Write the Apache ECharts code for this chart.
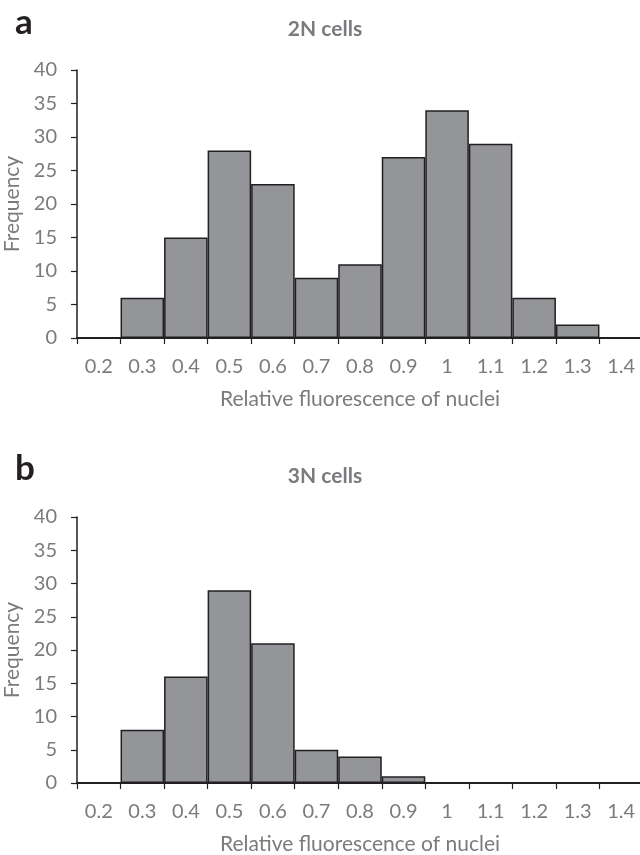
<!DOCTYPE html>
<html><head><meta charset="utf-8">
<script src="https://cdn.jsdelivr.net/npm/echarts@6/dist/echarts.min.js"></script>
<style>html,body{margin:0;padding:0;background:#fff}#c{width:640px;height:855px}</style>
</head><body><div id="c"></div>
<script>
const categories = ['0.2','0.3','0.4','0.5','0.6','0.7','0.8','0.9','1','1.1','1.2','1.3','1.4'];
const freq2N = [0, 6, 15, 28, 23, 9, 11, 27, 34, 29, 6, 2, 0];
const freq3N = [0, 8, 16, 29, 21, 5, 4, 1, 0, 0, 0, 0, 0];
const yTicks = [0, 5, 10, 15, 20, 25, 30, 35, 40];
const panelLabels = ['a', 'b'];
const panelTitles = ['2N cells', '3N cells'];
const xName = 'Relative fluorescence of nuclei';
const yName = 'Frequency';

const FONT = 'Lato';
const GREY = '#7a7b7e';
const FS = 20;
const chart = echarts.init(document.getElementById('c'), null, {renderer: 'canvas'});
const grids = [
  {left: 77, top: 70, height: 268, right: -3, containLabel: false, outerBoundsMode: 'none'},
  {left: 77, top: 517, height: 266, right: -3, containLabel: false, outerBoundsMode: 'none'}
];
function xAxis(i) {
  return {
    type: 'category', gridIndex: i, data: categories,
    name: xName, nameLocation: 'middle', nameGap: 51,
    nameTextStyle: {color: GREY, fontFamily: FONT, fontSize: 21},
    axisLine: {lineStyle: {color: '#231f20', width: 2}},
    axisTick: {show: true, alignWithLabel: false, length: 6, lineStyle: {color: '#231f20', width: 1.2}},
    axisLabel: {color: GREY, fontFamily: FONT, fontSize: FS, margin: 19, interval: 0},
    splitLine: {show: false}
  };
}
function yAxis(i) {
  return {
    type: 'value', gridIndex: i, min: yTicks[0], max: yTicks[yTicks.length - 1], interval: yTicks[1] - yTicks[0],
    name: yName, nameLocation: 'middle', nameGap: 54, nameMoveOverlap: false,
    nameTextStyle: {color: GREY, fontFamily: FONT, fontSize: 21},
    axisLine: {show: true, lineStyle: {color: '#231f20', width: 1.5}},
    axisTick: {show: true, length: 6, lineStyle: {color: '#231f20', width: 1.2}},
    axisLabel: {color: GREY, fontFamily: FONT, fontSize: FS, margin: 20},
    splitLine: {show: false}
  };
}
function series(i, vals) {
  return {
    type: 'bar', xAxisIndex: i, yAxisIndex: i, barCategoryGap: 0,
    data: vals.map(v => v === 0 ? '-' : v),
    itemStyle: {color: '#939598', borderColor: '#231f20', borderWidth: 1.5},
    silent: true
  };
}
chart.setOption({
  animation: false,
  grid: grids,
  title: [
    {text: panelLabels[0], left: 10, top: 0, textStyle: {fontFamily: FONT, fontSize: 35, fontWeight: 'bold', color: '#231f20'}},
    {text: panelTitles[0], left: 320, top: 14, textAlign: 'center', textStyle: {fontFamily: FONT, fontSize: 21, fontWeight: 'bold', color: GREY}},
    {text: panelLabels[1], left: 10, top: 446, textStyle: {fontFamily: FONT, fontSize: 35, fontWeight: 'bold', color: '#231f20'}},
    {text: panelTitles[1], left: 320, top: 461, textAlign: 'center', textStyle: {fontFamily: FONT, fontSize: 21, fontWeight: 'bold', color: GREY}}
  ],
  xAxis: [xAxis(0), xAxis(1)],
  yAxis: [yAxis(0), yAxis(1)],
  series: [series(0, freq2N), series(1, freq3N)]
});
</script></body></html>
